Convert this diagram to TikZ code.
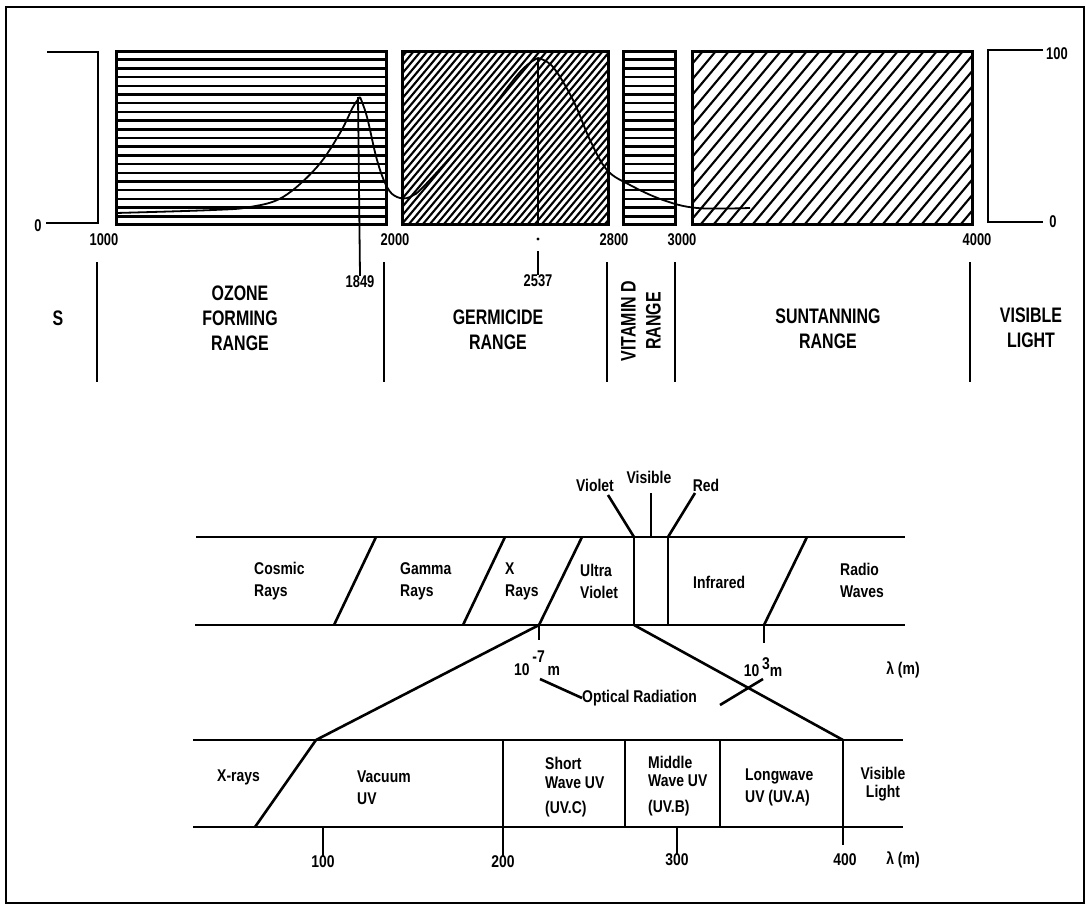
\documentclass[tikz,border=0pt]{standalone}
\usepackage{fontspec}
\usepackage{tikz}
\newfontfamily\handfont{Liberation Sans}[FakeStretch=0.76]
\newfontfamily\bandfont{Liberation Sans}[FakeStretch=0.82]

\begin{document}
\begin{tikzpicture}[
    x=1pt, y=-1pt,
    rangelabel/.style={font=\handfont\bfseries\fontsize{21}{25}\selectfont, align=center, inner sep=0pt},
    scalenum/.style={font=\handfont\bfseries\fontsize{17}{20}\selectfont, inner sep=0pt},
    bandlabel/.style={font=\bandfont\bfseries\fontsize{17}{22}\selectfont, align=left, inner sep=0pt},
    rangebox/.style={draw, line width=3pt},
    hatchline/.style={line width=2.1pt},
    rule/.style={line width=2.6pt},
    thinrule/.style={line width=1.8pt}
]
\useasboundingbox (0,0) rectangle (1086,905);

% Frame
\draw[line width=2.4pt] (6,7) rectangle (1084,903);

% UV ranges (top chart)
\begin{scope}
  \clip (116,51) rectangle (386,224);
  \foreach \hy in {59.7,68.4,...,222}
    \draw[hatchline, line width=2.5pt] (116,\hy) -- (386,\hy);
\end{scope}
\begin{scope}
  \clip (402,51) rectangle (608,224);
  \foreach \hx in {255,262,...,610}
    \draw[hatchline] (\hx,224) -- ++(145,-173);
\end{scope}
\begin{scope}
  \clip (623,51) rectangle (675,224);
  \foreach \hy in {59.7,68.4,...,222}
    \draw[hatchline, line width=2.5pt] (623,\hy) -- (675,\hy);
\end{scope}
\begin{scope}
  \clip (692,51) rectangle (972,224);
  \foreach \hx in {545,558,...,975}
    \draw[hatchline] (\hx,224) -- ++(145,-173);
\end{scope}
\draw[rangebox] (116,51) rectangle (386,224);
\draw[rangebox] (402,51) rectangle (608,224);
\draw[rangebox] (623,51) rectangle (675,224);
\draw[rangebox] (692,51) rectangle (972,224);

% Scale brackets
\draw[rule] (47,52) -| (98,223) -- (46,223);
\draw[rule] (1043,50) -| (988,222) -- (1043,222);
\node[scalenum] (zeroL) at (38,226) {0};
\node[scalenum] (hundredR) at (1057,54) {100};
\node[scalenum] (zeroR) at (1053,222) {0};

% Response curve
\draw[thinrule] plot[smooth, tension=0.6] coordinates {(116,213) (213,210) (250,207) (283,197) (317,167) (340,133) (353,107) (360,97)};
\draw[thinrule] plot[smooth, tension=0.6] coordinates {(360,97) (367,117) (377,160) (387,187) (397,197) (410,197) (427,183) (480,123) (520,72) (538,58)};
\draw[thinrule] plot[smooth, tension=0.6] coordinates {(538,58) (553,67) (573,100) (590,140) (607,170) (630,185) (663,200) (697,208) (750,208)};

% Peak markers
\node[scalenum] (p1849) at (360,282) {1849};
\node[scalenum] (p2537) at (538,281) {2537};
\draw[thinrule] (358,97) -- (p1849.north);
\draw[thinrule] (538,58) -- (538,226);
\fill (538,239) circle (1.6);
\draw[thinrule] (538,251) -- (p2537.north);

% Wavelength ticks
\node[scalenum] (w1000) at (104,240) {1000};
\node[scalenum] (w2000) at (395,240) {2000};
\node[scalenum] (w2800) at (614,240) {2800};
\node[scalenum] (w3000) at (682,240) {3000};
\node[scalenum] (w4000) at (977,240) {4000};

% Range separators
\foreach \sx in {97,384,607,675,970}
  \draw[rule] (\sx,262) -- (\sx,382);

% Range names
\node[rangelabel] (sband) at (58,318) {S};
\node[rangelabel] (ozone) at (240,318) {OZONE\\FORMING\\RANGE};
\node[rangelabel] (germ) at (498,330) {GERMICIDE\\RANGE};
\node[rangelabel, rotate=90] (vitd) at (641,321) {VITAMIN D\\RANGE};
\node[rangelabel] (suntan) at (828,329) {SUNTANNING\\RANGE};
\node[rangelabel] (vislight) at (1031,328) {VISIBLE\\LIGHT};

% Electromagnetic spectrum band
\coordinate (specTL) at (196,537);
\coordinate (specTR) at (905,537);
\coordinate (specBL) at (195,625);
\coordinate (specBR) at (905,625);
\coordinate (xuvB) at (539,625);
\coordinate (violT) at (634,537);
\coordinate (violB) at (634,625);
\coordinate (visT) at (651,537);
\coordinate (redT) at (668,537);
\coordinate (redB) at (668,625);
\coordinate (radioB) at (764,625);
\draw[rule] (specTL) -- (specTR);
\draw[rule] (specBL) -- (specBR);
\draw[rule] (376,537) -- (334,625);
\draw[rule] (505,537) -- (463,625);
\draw[rule] (582,537) -- (xuvB);
\draw[rule] (violT) -- (violB);
\draw[rule] (redT) -- (redB);
\draw[rule] (807,537) -- (radioB);

\node[bandlabel, anchor=west] (cosmic) at (254,581) {Cosmic\\Rays};
\node[bandlabel, anchor=west] (gamma) at (400,581) {Gamma\\Rays};
\node[bandlabel, anchor=west] (xray) at (505,581) {X\\Rays};
\node[bandlabel, anchor=west] (ultra) at (580,581) {Ultra\\Violet};
\node[bandlabel, anchor=west] (infra) at (693,582) {Infrared};
\node[bandlabel, anchor=west] (radio) at (840,580) {Radio\\Waves};

\node[bandlabel] (violet) at (595,485) {Violet};
\node[bandlabel] (visible) at (649,477) {Visible};
\node[bandlabel] (red) at (706,485) {Red};
\draw[rule] (violT) -- (608,495);
\draw[rule] (visT) -- (651,493);
\draw[rule] (redT) -- (695,493);

% Optical radiation limits
\node[bandlabel] (lowlim) at (537,663) {10\raisebox{13pt}{\,-7\,}m};
\node[bandlabel] (uplim) at (763,667) {10\,\raisebox{7pt}{3}m};
\node[bandlabel] (lamtop) at (903,670) {λ (m)};
\draw[rule] (xuvB) -- (539,640);
\draw[rule] (radioB) -- (764,643);
\node[bandlabel, anchor=west] (optical) at (582,698) {Optical Radiation};
\coordinate (optEnd) at (720,705);
\draw[rule] (540,679) -- (optical.west);
\draw[rule] (optEnd) -- (763,679);

% Ultraviolet detail band
\coordinate (uvTL) at (193,740);
\coordinate (uvTR) at (903,740);
\coordinate (uvBL) at (193,827);
\coordinate (uvBR) at (903,827);
\coordinate (vacT) at (316,740);
\coordinate (visB) at (843,740);
\draw[rule] (xuvB) -- (vacT);
\draw[rule] (violB) -- (visB);
\draw[rule] (uvTL) -- (uvTR);
\draw[rule] (uvBL) -- (uvBR);
\draw[rule] (vacT) -- (255,827);
\foreach \dx in {503,625,720,843}
  \draw[rule] (\dx,740) -- (\dx,827);

\node[bandlabel, anchor=west] (xrays) at (217,777) {X-rays};
\node[bandlabel, anchor=west] (vacuum) at (357,788) {Vacuum\\UV};
\node[bandlabel, anchor=west] (uvc) at (545,787) {Short\\[-3pt]Wave UV\\[3pt](UV.C)};
\node[bandlabel, anchor=west] (uvb) at (648,786) {Middle\\[-4pt]Wave UV\\[4pt](UV.B)};
\node[bandlabel, anchor=west] (uva) at (745,787) {Longwave\\UV (UV.A)};
\node[bandlabel, align=center] (vislt) at (883,784) {Visible\\[-4pt]Light};

% nm scale
\node[bandlabel] (n100) at (323,862) {100};
\node[bandlabel] (n200) at (503,862) {200};
\node[bandlabel] (n300) at (677,860) {300};
\node[bandlabel] (n400) at (845,860) {400};
\node[bandlabel] (lambot) at (903,860) {λ (m)};
\draw[rule] (323,827) -- (n100.north);
\draw[rule] (503,827) -- (n200.north);
\draw[rule] (677,827) -- (n300.north);
\draw[rule] (843,827) -- (843,845);

\end{tikzpicture}
\end{document}
